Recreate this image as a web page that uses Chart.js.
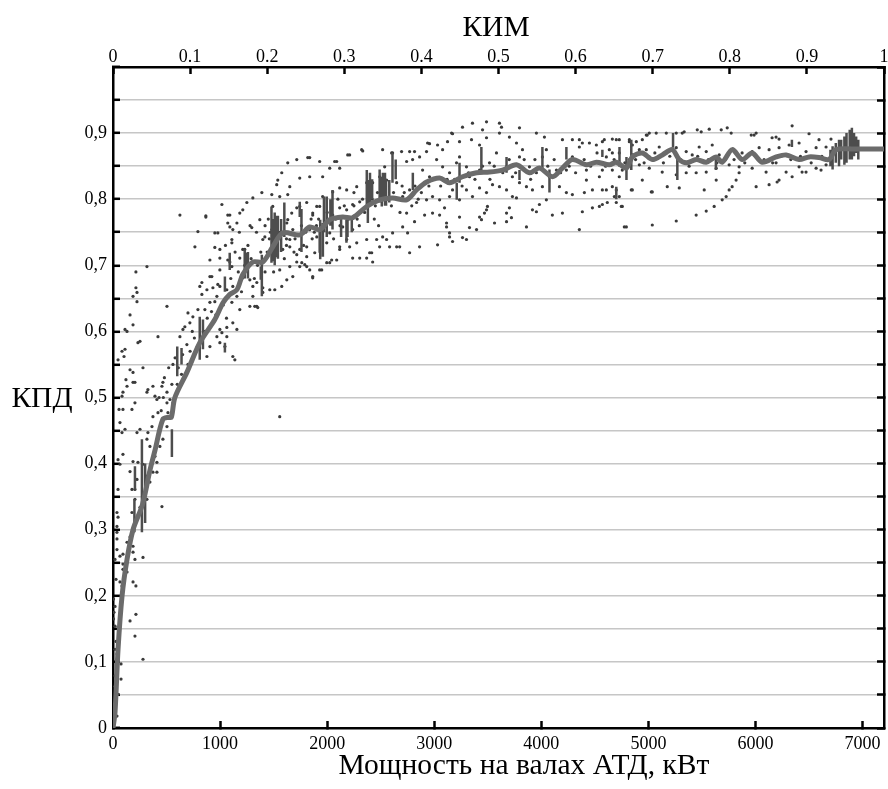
<!DOCTYPE html>
<html>
<head>
<meta charset="utf-8">
<title>КПД АТД</title>
<script src="https://cdn.jsdelivr.net/npm/chart.js@4.4.1/dist/chart.umd.min.js"></script>
<style>
    html, body { margin: 0; padding: 0; background: #ffffff; }
    #wrap { width: 888px; height: 789px; }
</style>
</head>
<body>
<div id="wrap"><canvas id="kpdChart" width="888" height="789"></canvas></div>
<script>
/**
 * Data
 */
const titleTop = "КИМ";
const titleLeft = "КПД";
const titleBottom = "Мощность на валах АТД, кВт";

const xTickValues = [0, 1000, 2000, 3000, 4000, 5000, 6000, 7000];
const xTickLabels = ["0", "1000", "2000", "3000", "4000", "5000", "6000", "7000"];
const topTickValues = [0, 0.1, 0.2, 0.3, 0.4, 0.5, 0.6, 0.7, 0.8, 0.9, 1];
const topTickLabels = ["0", "0.1", "0.2", "0.3", "0.4", "0.5", "0.6", "0.7", "0.8", "0.9", "1"];
const yTickValues = [0, 0.05, 0.1, 0.15, 0.2, 0.25, 0.3, 0.35, 0.4, 0.45, 0.5,
    0.55, 0.6, 0.65, 0.7, 0.75, 0.8, 0.85, 0.9, 0.95, 1];
const yTickLabels = ["0", "", "0,1", "", "0,2", "", "0,3", "", "0,4", "", "0,5",
    "", "0,6", "", "0,7", "", "0,8", "", "0,9", "", ""];

// smoothed efficiency curve
const trendPower = [0, 19, 47, 84, 131, 187, 275, 345, 392, 466, 520, 545, 578, 690, 811, 951, 1026,
    1091, 1157, 1212, 1306, 1399, 1492, 1586, 1744, 1837, 1931, 2024, 2145, 2238, 2369, 2490,
    2611, 2742, 2835, 2929, 3050, 3143, 3264, 3395, 3516, 3637, 3768, 3889, 3983, 4104, 4197,
    4290, 4421, 4514, 4635, 4701, 4794, 4850, 4943, 5036, 5130, 5223, 5288, 5354, 5447, 5540,
    5633, 5689, 5783, 5876, 5969, 6062, 6193, 6286, 6407, 6501, 6594, 6687, 6752, 6902, 7200];
const trendEff = [0, 0.024, 0.119, 0.199, 0.255, 0.3, 0.338, 0.39, 0.42, 0.467, 0.47, 0.47, 0.5,
    0.538, 0.583, 0.618, 0.643, 0.656, 0.663, 0.686, 0.705, 0.705, 0.728, 0.749, 0.746, 0.758,
    0.754, 0.769, 0.773, 0.772, 0.789, 0.799, 0.802, 0.799, 0.814, 0.826, 0.832, 0.825, 0.834,
    0.84, 0.841, 0.844, 0.852, 0.84, 0.847, 0.834, 0.847, 0.86, 0.852, 0.856, 0.852, 0.856,
    0.847, 0.864, 0.87, 0.86, 0.867, 0.875, 0.86, 0.855, 0.86, 0.856, 0.864, 0.856, 0.875,
    0.86, 0.87, 0.856, 0.864, 0.867, 0.86, 0.864, 0.863, 0.86, 0.875, 0.876, 0.876];

// dense vertical runs of measurements
const streakPower = [200, 205, 270, 300, 550, 600, 640, 810, 840, 1045, 1045, 1090, 1230, 1240, 1260,
    1380, 1390, 1480, 1500, 1510, 1530, 1540, 1570, 1600, 1744, 1760, 1930, 1935, 1960, 1970,
    1996, 2030, 2050, 2130, 2180, 2190, 2230, 2370, 2380, 2400, 2420, 2490, 2510, 2520, 2540,
    2550, 2580, 2610, 2640, 2800, 3210, 3236, 3440, 3675, 3796, 4010, 4076, 4234, 4570, 4700,
    4730, 4795, 4840, 5230, 5270, 5630, 6340, 6700, 6720, 6750, 6780, 6800, 6830, 6850, 6880,
    6900, 6920, 6940, 6960];
const streakLow = [0.296, 0.361, 0.296, 0.31, 0.41, 0.532, 0.55, 0.557, 0.573, 0.568, 0.66, 0.693,
    0.68, 0.693, 0.68, 0.678, 0.653, 0.704, 0.706, 0.7, 0.712, 0.71, 0.72, 0.743, 0.773, 0.72,
    0.719, 0.709, 0.713, 0.75, 0.743, 0.76, 0.754, 0.743, 0.734, 0.743, 0.75, 0.789, 0.764, 0.79,
    0.8, 0.795, 0.789, 0.8, 0.79, 0.79, 0.795, 0.825, 0.83, 0.814, 0.799, 0.825, 0.84, 0.84,
    0.829, 0.845, 0.81, 0.86, 0.864, 0.8, 0.849, 0.829, 0.844, 0.878, 0.829, 0.844, 0.879, 0.85,
    0.845, 0.855, 0.85, 0.86, 0.852, 0.855, 0.86, 0.86, 0.865, 0.87, 0.86];
const streakHigh = [0.346, 0.396, 0.437, 0.4, 0.452, 0.577, 0.575, 0.622, 0.618, 0.583, 0.683,
    0.719, 0.724, 0.719, 0.72, 0.698, 0.716, 0.789, 0.77, 0.78, 0.775, 0.775, 0.77, 0.795, 0.796,
    0.785, 0.754, 0.769, 0.764, 0.804, 0.804, 0.8, 0.814, 0.773, 0.769, 0.773, 0.77, 0.844,
    0.829, 0.84, 0.83, 0.845, 0.834, 0.84, 0.84, 0.83, 0.829, 0.87, 0.86, 0.84, 0.825, 0.855,
    0.879, 0.864, 0.844, 0.879, 0.845, 0.879, 0.875, 0.819, 0.879, 0.864, 0.89, 0.9, 0.867,
    0.864, 0.89, 0.875, 0.88, 0.885, 0.89, 0.89, 0.895, 0.9, 0.905, 0.908, 0.9, 0.895, 0.89];

// individual measurements [power, efficiency]
const pointsLow = [
    [93, 0.414], [47, 0.406], [65, 0.399], [187, 0.403], [280, 0.399], [159, 0.388], [47, 0.361],
    [177, 0.361], [205, 0.346], [252, 0.334], [37, 0.326], [47, 0.319], [177, 0.326], [457, 0.335],
    [37, 0.305], [37, 0.296], [37, 0.286], [37, 0.27], [65, 0.26], [93, 0.263], [19, 0.255],
    [131, 0.281], [159, 0.289], [187, 0.275], [187, 0.266], [205, 0.255], [280, 0.258], [93, 0.248],
    [93, 0.24], [131, 0.236], [65, 0.221], [28, 0.225], [84, 0.215], [187, 0.221], [214, 0.215],
    [5, 0.195], [19, 0.184], [9, 0.175], [5, 0.165], [65, 0.165], [159, 0.162], [214, 0.172],
    [19, 0.154], [205, 0.139], [28, 0.131], [19, 0.119], [37, 0.112], [280, 0.104], [75, 0.097],
    [19, 0.079], [75, 0.074], [19, 0.063], [47, 0.051], [28, 0.039], [37, 0.018],
    [47, 0.557], [112, 0.573], [103, 0.562], [159, 0.625], [187, 0.653], [214, 0.666], [224, 0.659],
    [214, 0.69], [224, 0.645], [187, 0.61], [233, 0.583], [252, 0.585], [280, 0.545], [112, 0.603],
    [131, 0.6], [84, 0.57], [121, 0.527], [131, 0.517], [159, 0.542], [187, 0.523], [205, 0.523],
    [187, 0.538], [84, 0.502], [93, 0.508], [56, 0.482], [65, 0.462], [84, 0.447], [112, 0.452],
    [93, 0.482], [177, 0.482], [205, 0.492], [224, 0.447], [252, 0.452], [326, 0.512], [317, 0.508],
    [373, 0.517], [392, 0.502], [410, 0.497], [420, 0.477], [373, 0.471], [364, 0.456], [326, 0.447],
    [317, 0.437], [345, 0.426], [392, 0.411], [410, 0.402], [438, 0.426], [466, 0.437], [504, 0.456],
    [457, 0.517], [466, 0.523], [504, 0.508], [532, 0.497], [560, 0.492], [504, 0.492], [550, 0.52],
    [513, 0.477], [317, 0.381], [345, 0.372], [373, 0.387], [224, 0.376], [233, 0.402], [410, 0.387],
    [205, 0.361], [317, 0.346],
    [625, 0.776], [867, 0.775], [793, 0.751], [765, 0.728], [317, 0.698], [504, 0.638], [420, 0.592],
    [653, 0.603], [671, 0.607], [625, 0.592], [700, 0.628], [718, 0.613], [746, 0.622], [793, 0.633],
    [811, 0.668], [830, 0.656], [877, 0.663], [905, 0.683], [933, 0.666], [979, 0.671], [951, 0.645],
    [998, 0.693], [998, 0.724], [951, 0.749], [979, 0.749], [905, 0.644], [858, 0.633], [867, 0.773],
    [951, 0.727], [998, 0.711], [905, 0.708], [923, 0.683], [830, 0.674], [970, 0.653], [998, 0.668],
    [998, 0.603], [970, 0.592], [905, 0.577], [877, 0.562], [998, 0.583],
    [560, 0.55], [580, 0.56], [610, 0.545], [650, 0.565], [690, 0.58], [720, 0.57], [760, 0.59],
    [480, 0.53], [520, 0.545], [600, 0.52], [640, 0.535], [700, 0.55], [740, 0.6], [780, 0.575],
    [850, 0.6], [880, 0.62], [920, 0.63], [960, 0.625], [430, 0.5], [450, 0.48], [470, 0.5]
];
const pointsMid = [
    [1072, 0.776], [1091, 0.758], [1110, 0.734], [1072, 0.708], [1110, 0.698], [1119, 0.668],
    [1157, 0.603], [1138, 0.557], [1063, 0.592], [1017, 0.598], [1250, 0.698], [1184, 0.779],
    [1212, 0.784], [1250, 0.795], [1231, 0.724], [1306, 0.653], [1343, 0.638], [1399, 0.659],
    [1343, 0.674], [1511, 0.663], [1576, 0.668], [1623, 0.678], [1679, 0.683], [1744, 0.698],
    [1865, 0.683], [1930, 0.693], [2024, 0.704], [1744, 0.724], [1809, 0.728], [1651, 0.739],
    [1623, 0.764], [1744, 0.789], [1865, 0.779], [1930, 0.789], [2052, 0.773], [2182, 0.784],
    [2182, 0.739], [2117, 0.724], [1557, 0.471], [1492, 0.789],
    [1632, 0.855], [1576, 0.84], [1539, 0.829], [1529, 0.822], [1716, 0.86], [1819, 0.863],
    [1930, 0.857], [2089, 0.857], [2192, 0.867], [2322, 0.875], [2518, 0.875], [2602, 0.87],
    [2537, 0.849], [2117, 0.847], [2024, 0.847], [1958, 0.834], [1837, 0.834], [1744, 0.832],
    [1651, 0.819], [1632, 0.807], [1557, 0.804], [1483, 0.807], [1390, 0.81], [1306, 0.802],
    [1017, 0.792], [1091, 0.776], [1157, 0.764], [1072, 0.764], [1119, 0.754], [1296, 0.757],
    [1399, 0.739], [1371, 0.769], [1110, 0.739], [1212, 0.724], [1184, 0.711], [1091, 0.705],
    [1063, 0.663], [1110, 0.644], [1157, 0.653], [1184, 0.633], [1278, 0.638], [1324, 0.638],
    [1352, 0.636], [1119, 0.613], [1063, 0.606], [1045, 0.577], [1119, 0.562], [1212, 0.681],
    [1278, 0.678], [1306, 0.668], [1399, 0.666], [1464, 0.663], [1557, 0.693], [1651, 0.698],
    [1716, 0.705], [1809, 0.698], [1716, 0.716], [1809, 0.713], [1837, 0.693], [1884, 0.719],
    [1996, 0.704], [2042, 0.708], [2117, 0.728], [2210, 0.728], [2276, 0.734], [2304, 0.711],
    [2425, 0.705], [2397, 0.719], [2490, 0.728], [2555, 0.739], [2611, 0.749], [2649, 0.728],
    [2369, 0.739], [2238, 0.754], [2145, 0.758], [2024, 0.749], [1996, 0.734], [1903, 0.743],
    [1837, 0.754], [1679, 0.754], [1632, 0.769], [1669, 0.779], [1716, 0.787], [1809, 0.795],
    [1903, 0.789], [1958, 0.804], [2052, 0.811], [2117, 0.817], [2182, 0.814], [2276, 0.819],
    [2369, 0.825], [2425, 0.825], [2490, 0.834], [2555, 0.829], [2649, 0.825], [2304, 0.796],
    [2117, 0.787], [2238, 0.792], [2052, 0.776], [1865, 0.776], [1483, 0.754], [1418, 0.743],
    [1492, 0.713], [1585, 0.724], [1651, 0.728],
    [2863, 0.728], [2770, 0.719], [2677, 0.728], [2583, 0.728], [2518, 0.743], [2462, 0.739],
    [2416, 0.719], [2369, 0.711], [2238, 0.711], [2089, 0.708], [1949, 0.693], [1865, 0.681],
    [1791, 0.701], [1763, 0.704],
    [2210, 0.867], [2332, 0.873], [2611, 0.87], [2695, 0.872], [2770, 0.872], [2938, 0.885],
    [1837, 0.863], [2070, 0.857],
    [2956, 0.884], [2928, 0.872], [2816, 0.872], [2742, 0.857], [2798, 0.86], [2863, 0.864],
    [2891, 0.844], [2956, 0.834],
    [2705, 0.804], [2770, 0.814], [2835, 0.795], [2928, 0.799], [2984, 0.804], [2742, 0.779],
    [2705, 0.758], [2751, 0.749], [2816, 0.766], [2910, 0.776], [2984, 0.779],
    [1030, 0.64], [1060, 0.62], [1100, 0.68], [1140, 0.72], [1170, 0.69], [1200, 0.66], [1230, 0.7],
    [1260, 0.73], [1290, 0.71], [1320, 0.68], [1350, 0.7], [1380, 0.72], [1420, 0.69], [1440, 0.72],
    [1460, 0.74], [1500, 0.69], [1530, 0.73], [1560, 0.75], [1600, 0.71], [1620, 0.74], [1050, 0.73],
    [1180, 0.75], [1280, 0.76], [1340, 0.75], [1450, 0.77],
    [1700, 0.74], [1760, 0.76], [1800, 0.75], [1850, 0.77], [1880, 0.75], [1920, 0.77], [1980, 0.76],
    [2000, 0.78], [2080, 0.77], [2120, 0.76], [2160, 0.79], [2200, 0.77], [2250, 0.79], [2280, 0.77],
    [2330, 0.8], [2350, 0.78], [2420, 0.8], [2450, 0.79], [2470, 0.81], [2530, 0.81], [2570, 0.8],
    [2620, 0.81], [2660, 0.8], [2700, 0.82], [2760, 0.8], [2820, 0.82], [2880, 0.81], [2950, 0.82],
    [1420, 0.76], [1470, 0.75], [1620, 0.73], [1690, 0.72], [1780, 0.73], [1860, 0.74], [1900, 0.76],
    [2060, 0.74], [2100, 0.8], [2250, 0.81], [2300, 0.76], [2440, 0.77], [2480, 0.76], [2600, 0.79],
    [2680, 0.78], [2720, 0.81], [2790, 0.79], [2850, 0.8]
];
const pointsHigh = [
    [3301, 0.739], [3395, 0.754], [3441, 0.769], [3469, 0.779], [3497, 0.789], [3143, 0.743],
    [3115, 0.758], [3031, 0.731], [3236, 0.773], [3675, 0.766], [3721, 0.772], [3768, 0.802],
    [3861, 0.758], [3917, 0.784], [4103, 0.776], [4197, 0.779], [4355, 0.754], [4402, 0.81],
    [4477, 0.787],
    [3031, 0.882], [3124, 0.887], [3162, 0.9], [3264, 0.909], [3357, 0.915], [3488, 0.917],
    [3609, 0.915], [3628, 0.909], [3451, 0.905], [3796, 0.908], [3954, 0.9], [4197, 0.89],
    [4290, 0.89], [4383, 0.885], [4449, 0.885], [4514, 0.882],
    [3171, 0.899], [3236, 0.887], [3348, 0.89], [3423, 0.882], [3488, 0.893], [3609, 0.9],
    [3702, 0.894], [3768, 0.885], [4029, 0.894], [4355, 0.89], [4588, 0.89], [4663, 0.891],
    [4728, 0.89], [4822, 0.89], [4887, 0.887], [4989, 0.897],
    [3022, 0.86], [3078, 0.875], [3078, 0.849], [3143, 0.84], [3208, 0.855], [3236, 0.864],
    [3301, 0.849], [3329, 0.834], [3423, 0.844], [3516, 0.855], [3581, 0.87], [3675, 0.849],
    [3730, 0.834], [3796, 0.864], [3824, 0.875], [3889, 0.849], [3954, 0.84], [4010, 0.864],
    [4047, 0.875], [4141, 0.844], [4234, 0.844], [4290, 0.864], [4355, 0.879], [4421, 0.844],
    [4542, 0.834], [4607, 0.864], [4663, 0.87], [4728, 0.834], [4822, 0.86], [4915, 0.87],
    [4980, 0.875],
    [3050, 0.799], [3096, 0.787], [3143, 0.804], [3171, 0.814], [3236, 0.799], [3301, 0.814],
    [3357, 0.804], [3423, 0.817], [3488, 0.81], [3544, 0.822], [3609, 0.819], [3675, 0.814],
    [3730, 0.804], [3796, 0.825], [3861, 0.819], [3917, 0.814], [4010, 0.819], [4075, 0.834],
    [4169, 0.819], [4234, 0.81], [4290, 0.807], [4421, 0.829], [4477, 0.814], [4570, 0.814],
    [4663, 0.819], [4728, 0.804], [4850, 0.814], [4943, 0.829],
    [3050, 0.776], [3115, 0.764], [3143, 0.749], [3171, 0.736], [3264, 0.742], [3329, 0.757],
    [3423, 0.773], [3488, 0.784], [3563, 0.764], [3675, 0.779], [3702, 0.787], [3954, 0.781],
    [3982, 0.792], [4047, 0.799], [4383, 0.781], [4542, 0.789], [4700, 0.795], [4756, 0.789],
    [4794, 0.758],
    [4943, 0.89], [5008, 0.9], [5073, 0.9], [5167, 0.9], [5260, 0.9], [5334, 0.902], [5456, 0.905],
    [5568, 0.906], [5680, 0.905], [5736, 0.908], [5773, 0.9], [5960, 0.897], [6006, 0.9],
    [6155, 0.893], [6220, 0.891], [6342, 0.911], [6500, 0.899], [6593, 0.89], [6705, 0.891],
    [4570, 0.887], [4700, 0.89], [4822, 0.887], [4850, 0.882],
    [4635, 0.875], [4728, 0.87], [4850, 0.867], [4915, 0.875], [5008, 0.864], [5101, 0.879],
    [5167, 0.87], [5260, 0.878], [5353, 0.872], [5409, 0.867], [5474, 0.879], [5540, 0.872],
    [5596, 0.882], [5661, 0.867], [5782, 0.875], [5875, 0.87], [5969, 0.872], [6034, 0.878],
    [6127, 0.875], [6220, 0.878], [6314, 0.882], [6407, 0.885], [6472, 0.872], [6566, 0.878],
    [6659, 0.879],
    [4570, 0.844], [4663, 0.844], [4756, 0.844], [4915, 0.852], [5008, 0.847], [5129, 0.841],
    [5260, 0.837], [5353, 0.84], [5446, 0.84], [5540, 0.841], [5633, 0.847], [5754, 0.852],
    [5847, 0.849], [5969, 0.847], [6099, 0.841], [6192, 0.855], [6286, 0.841], [6407, 0.849],
    [6472, 0.841], [6566, 0.847], [6659, 0.852],
    [4607, 0.814], [4700, 0.814], [4682, 0.804], [4570, 0.792], [4616, 0.795], [4747, 0.789],
    [4840, 0.814], [5027, 0.811], [5176, 0.819], [5288, 0.817], [5521, 0.814], [5633, 0.829],
    [4775, 0.758], [5036, 0.761], [5260, 0.767], [5446, 0.776], [5540, 0.782], [5614, 0.789],
    [5689, 0.799], [5754, 0.814], [5782, 0.819], [5819, 0.829], [5847, 0.84], [6006, 0.819],
    [6127, 0.822], [6220, 0.829], [6342, 0.834], [6435, 0.841], [5726, 0.804], [5036, 0.811],
    [6202, 0.826], [6612, 0.844], [6192, 0.894], [5987, 0.897], [5493, 0.902], [5316, 0.9],
    [4980, 0.897],
    [3000, 0.83], [3060, 0.82], [3120, 0.83], [3190, 0.83], [3260, 0.82], [3320, 0.84], [3380, 0.83],
    [3450, 0.85], [3520, 0.83], [3560, 0.85], [3640, 0.84], [3700, 0.86], [3760, 0.84], [3840, 0.86],
    [3900, 0.83], [3940, 0.86], [4060, 0.85], [4120, 0.86], [4180, 0.84], [4260, 0.85], [4320, 0.84],
    [4400, 0.86], [4460, 0.85], [4520, 0.87], [4600, 0.85],
    [4680, 0.86], [4780, 0.855], [4880, 0.86], [4960, 0.855], [5060, 0.87], [5140, 0.855],
    [5200, 0.865], [5300, 0.86], [5380, 0.85], [5460, 0.865], [5560, 0.86], [5640, 0.855],
    [5720, 0.86], [5800, 0.86], [5900, 0.855], [6000, 0.865], [6080, 0.86], [6160, 0.855],
    [6240, 0.865], [6330, 0.86], [6420, 0.865], [6520, 0.855], [6620, 0.865]
];

const serif = "\"Liberation Serif\", \"Times New Roman\", serif";
const tickFont = { family: serif, size: 18 };

function toXY(pairs) {
    return pairs.map(p => ({ x: p[0], y: p[1] }));
}

const trendData = trendPower.map((p, i) => ({ x: p, y: trendEff[i] }));
const streakData = [];
streakPower.forEach((p, i) => {
    streakData.push({ x: p, y: streakLow[i] });
    streakData.push({ x: p, y: streakHigh[i] });
    streakData.push({ x: p, y: null });
});
const pointData = toXY(pointsLow).concat(toXY(pointsMid), toXY(pointsHigh));

// grid line colour: hide the ones sitting under the frame
function gridColor(ctx) {
    const v = ctx.tick ? ctx.tick.value : null;
    if (v === 0 || v === 1) return "rgba(0,0,0,0)";
    return "#c6c6c6";
}

// horizontal axes: no extra room for the end labels
function fitHorizontal(height) {
    return s => {
        s.height = height;
        s.paddingLeft = 0;
        s.paddingRight = 0;
    };
}

const axisTitles = {
    id: "axisTitles",
    afterDraw(chart) {
        const ctx = chart.ctx;
        ctx.save();
        ctx.fillStyle = "#000";
        ctx.font = "29.5px " + serif;
        ctx.textAlign = "center";
        ctx.textBaseline = "alphabetic";
        ctx.fillText(titleTop, 496, 36);
        ctx.fillText(titleBottom, 524, 774);
        ctx.fillText(titleLeft, 42, 407);
        ctx.restore();
    },
};

new Chart(document.getElementById("kpdChart").getContext("2d"), {
    type: "scatter",
    data: {
        datasets: [
            {
                type: "line",
                label: "trend",
                data: trendData,
                borderColor: "#6b6b6b",
                borderWidth: 5,
                pointRadius: 0,
                tension: 0.3,
                fill: false,
            },
            {
                type: "line",
                label: "streaks",
                data: streakData,
                borderColor: "#4d4d4d",
                borderWidth: 2.5,
                pointRadius: 0,
                spanGaps: false,
                fill: false,
            },
            {
                type: "scatter",
                label: "points",
                data: pointData,
                backgroundColor: "#3a3a3a",
                borderWidth: 0,
                pointRadius: 1.6,
            },
        ],
    },
    options: {
        responsive: false,
        animation: false,
        events: [],
        layout: { padding: 0 },
        plugins: {
            legend: { display: false },
            tooltip: { enabled: false },
        },
        scales: {
            x: {
                type: "linear",
                position: "bottom",
                min: 0,
                max: 7200,
                offset: false,
                afterBuildTicks: s => { s.ticks = xTickValues.map(v => ({ value: v })); },
                afterFit: fitHorizontal(61),
                ticks: {
                    font: tickFont,
                    color: "#000",
                    padding: 12,
                    maxRotation: 0,
                    autoSkip: false,
                    callback: (v, i) => xTickLabels[i],
                },
                grid: {
                    drawOnChartArea: false,
                    tickLength: -7,
                    tickColor: "#000",
                    tickWidth: 2.5,
                },
                border: { color: "#000", width: 2.5 },
            },
            x2: {
                type: "linear",
                position: "top",
                min: 0,
                max: 1,
                offset: false,
                afterBuildTicks: s => { s.ticks = topTickValues.map(v => ({ value: v })); },
                afterFit: fitHorizontal(67),
                ticks: {
                    font: tickFont,
                    color: "#000",
                    padding: 6,
                    maxRotation: 0,
                    autoSkip: false,
                    callback: (v, i) => topTickLabels[i],
                },
                grid: {
                    drawOnChartArea: false,
                    tickLength: -7,
                    tickColor: "#000",
                    tickWidth: 2.5,
                },
                border: { color: "#000", width: 2.5 },
            },
            y: {
                type: "linear",
                position: "left",
                min: 0,
                max: 1,
                afterBuildTicks: s => { s.ticks = yTickValues.map(v => ({ value: v })); },
                afterFit: s => { s.width = 113; },
                ticks: {
                    font: tickFont,
                    color: "#000",
                    padding: 13,
                    autoSkip: false,
                    callback: (v, i) => yTickLabels[i],
                },
                grid: {
                    color: gridColor,
                    lineWidth: 1.6,
                    tickLength: -7,
                    tickColor: "#000",
                    tickWidth: 2.5,
                },
                border: { color: "#000", width: 2.5 },
            },
            y2: {
                type: "linear",
                position: "right",
                min: 0,
                max: 1,
                afterBuildTicks: s => { s.ticks = yTickValues.map(v => ({ value: v })); },
                afterFit: s => { s.width = 1; },
                ticks: { display: false },
                grid: {
                    drawOnChartArea: false,
                    tickLength: -7,
                    tickColor: "#000",
                    tickWidth: 2.5,
                },
                border: { color: "#000", width: 2.5 },
            },
        },
    },
    plugins: [axisTitles],
});
</script>
</body>
</html>
